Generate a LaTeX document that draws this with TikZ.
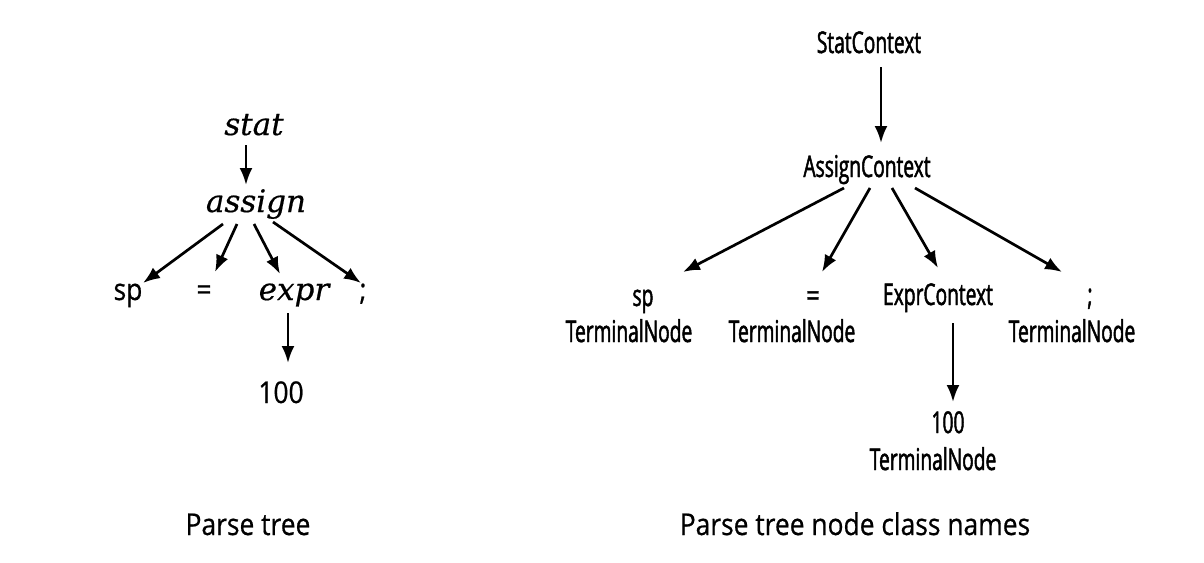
\documentclass[tikz,border=0pt]{standalone}
\usepackage{fontspec}
\setmainfont{Open Sans}
\newfontfamily\condf[FakeStretch=0.64,FakeBold=1.6]{Open Sans}
\newfontfamily\regf[FakeStretch=0.88,FakeBold=0.6]{Open Sans}
\newfontfamily\eqf[FakeStretch=0.8,FakeBold=1.2]{Open Sans}
\newfontfamily\itf[FakeBold=0.5]{DejaVu Serif}
\usetikzlibrary{arrows.meta}
\begin{document}
\begin{tikzpicture}[x=1pt,y=-1pt,
  lbl/.style={anchor=base,inner sep=0pt,outer sep=0pt},
  cnd/.style={lbl,font=\condf\fontsize{30}{36}\selectfont},
  cndeq/.style={lbl,font=\eqf\fontsize{30}{36}\selectfont},
  rg/.style={lbl,font=\regf\fontsize{30}{36}\selectfont},
  itl/.style={lbl,font=\itf\itshape\fontsize{31}{36}\selectfont},
  captxt/.style={lbl,font=\regf\fontsize{30}{36}\selectfont},
  arr/.style={-{Latex[length=17pt,width=13pt]},line width=2.7pt,black}]
\useasboundingbox[fill=white] (0,0) rectangle (1204,562);
% left tree
\node[itl] (stat) at (254,135) {stat};
\node[itl] (assign) at (256,212) {assign};
\node[rg] (sp) at (128,300) {sp};
\node[rg] (eq) at (204,300) {=};
\node[itl] (expr) at (294,300) {expr};
\node[rg] (semi) at (363,300) {;};
\node[rg] (hund) at (281,403) {100};
\draw[arr] ([shift={(-8,10)}]stat.base) -- ([shift={(-10,-27)}]assign.base);
\draw[arr] ([shift={(-33,12)}]assign.base) -- ([shift={(15,-17)}]sp.base);
\draw[arr] ([shift={(-19,12)}]assign.base) -- ([shift={(11,-28)}]eq.base);
\draw[arr] ([shift={(-2,12)}]assign.base) -- ([shift={(-14,-26)}]expr.base);
\draw[arr] ([shift={(17,10)}]assign.base) -- ([shift={(-2,-17)}]semi.base);
\draw[arr] ([shift={(-6,13)}]expr.base) -- ([shift={(7,-40)}]hund.base);
\node[captxt] (capL) at (248,535) {Parse tree};
% right tree
\node[cnd] (SC) at (869,53) {StatContext};
\node[cnd] (AC) at (867,177) {AssignContext};
\node[cnd] (rsp) at (643,306) {sp};
\node[cnd] (tn1) at (629,342) {TerminalNode};
\node[cndeq] (req) at (813,306) {=};
\node[cnd] (tn2) at (792,342) {TerminalNode};
\node[cnd] (EC) at (938,305) {ExprContext};
\node[cnd] (rsemi) at (1090,305) {;};
\node[cnd] (tn3) at (1072,342) {TerminalNode};
\node[cnd] (r100) at (948,433) {100};
\node[cnd] (tn4) at (933,470) {TerminalNode};
\draw[arr] ([shift={(12,14)}]SC.base) -- ([shift={(14,-34)}]AC.base);
\draw[arr] ([shift={(-23,11)}]AC.base) -- ([shift={(40,-34)}]rsp.base);
\draw[arr] ([shift={(3,11)}]AC.base) -- ([shift={(9,-34)}]req.base);
\draw[arr] ([shift={(25,11)}]AC.base) -- ([shift={(0,-37)}]EC.base);
\draw[arr] ([shift={(48,11)}]AC.base) -- ([shift={(-28,-33)}]rsemi.base);
\draw[arr] ([shift={(15,18)}]EC.base) -- ([shift={(5,-31)}]r100.base);
\node[captxt] (capR) at (855,535) {Parse tree node class names};
\end{tikzpicture}
\end{document}
